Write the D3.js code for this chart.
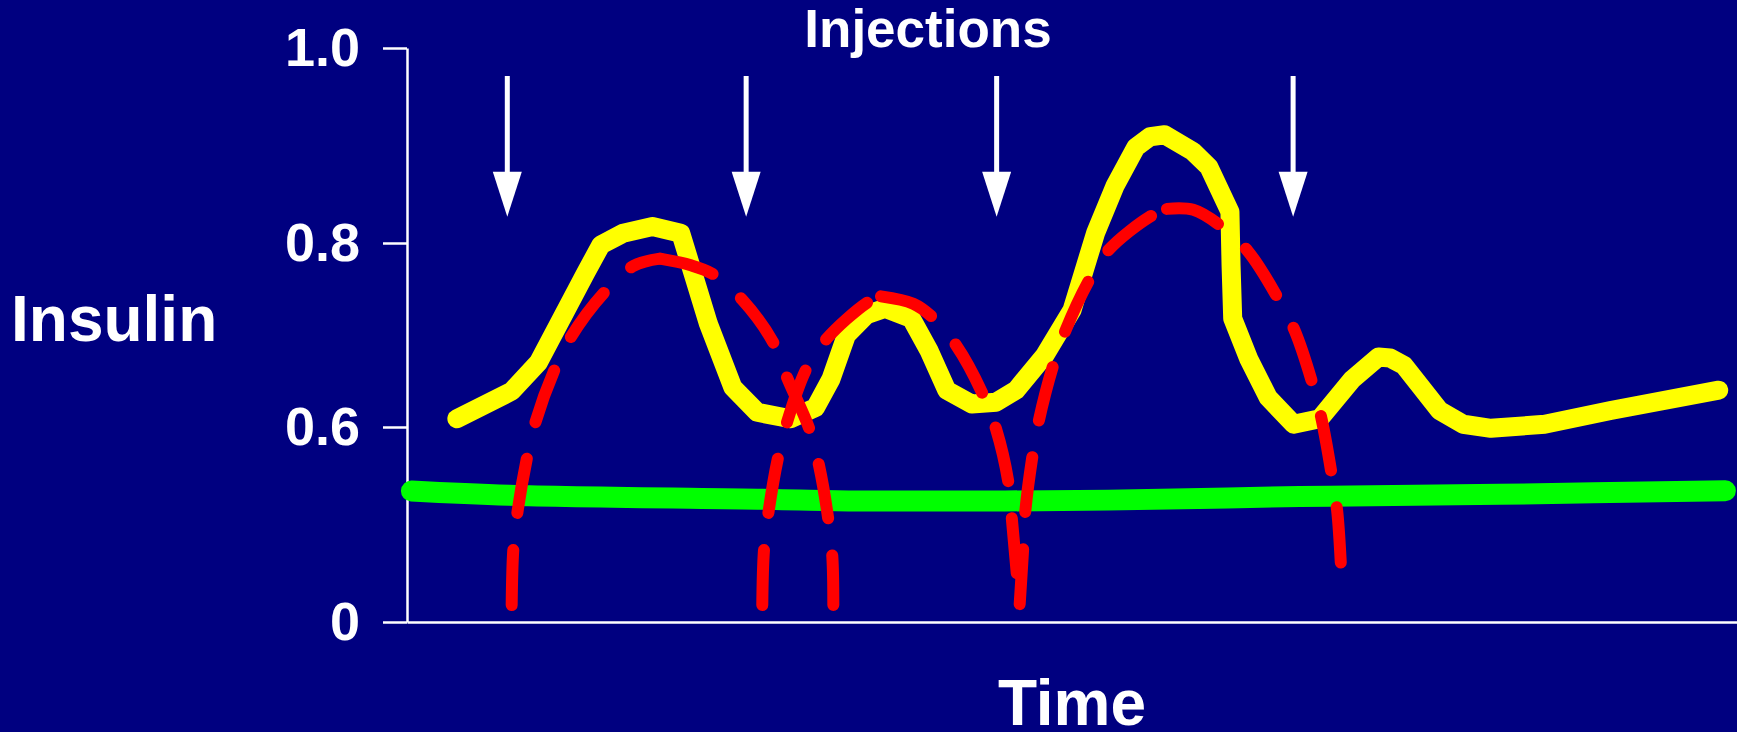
<!DOCTYPE html>
<html>
<head>
<meta charset="utf-8">
<script src="https://cdn.jsdelivr.net/npm/d3@7"></script>
<style>
  body { margin: 0; background: #000080; }
  svg text { font-family: "Liberation Sans", Arial, sans-serif; font-weight: bold; fill: #fff; }
  .axis path, .axis line { stroke: #fff; stroke-width: 2.5; }
</style>
</head>
<body>
<div id="svg1"></div>
<script>
// y ticks (the axis is broken between 0 and 0.6)
var yTicks = [0, 0.6, 0.8, 1.0];

// injection times (hours)
var injections = [1.81, 6.12, 10.64, 15.99];

// measured insulin (yellow)
var measuredT = [0.90, 1.89, 2.37, 3.22, 3.50, 3.90, 4.43, 4.94, 5.44, 5.88, 6.32, 6.92, 7.37, 7.65, 7.93, 8.29, 8.63, 9.10, 9.42, 9.74, 10.19, 10.63, 10.99, 11.51, 12.00, 12.43, 12.78, 13.15, 13.41, 13.67, 14.18, 14.47, 14.85, 14.87, 14.90, 15.19, 15.54, 16.00, 16.47, 17.06, 17.53, 17.74, 17.99, 18.63, 19.06, 19.56, 20.53, 21.72, 23.67];
var measuredV = [0.609, 0.639, 0.670, 0.767, 0.798, 0.810, 0.817, 0.810, 0.712, 0.643, 0.616, 0.609, 0.621, 0.652, 0.700, 0.722, 0.729, 0.718, 0.683, 0.640, 0.625, 0.627, 0.640, 0.678, 0.727, 0.811, 0.859, 0.898, 0.909, 0.911, 0.894, 0.878, 0.832, 0.776, 0.718, 0.674, 0.632, 0.603, 0.609, 0.652, 0.676, 0.675, 0.667, 0.618, 0.603, 0.596, 0.603, 0.618, 0.640];

// basal insulin (green)
var basalT = [0.08, 1.85, 6.64, 8.17, 12.65, 16.11, 19.72, 23.79];
var basalV = [0.403, 0.390, 0.377, 0.372, 0.375, 0.386, 0.393, 0.404];

// injection profiles (red dashed), rise drawn upward, fall drawn from the peak down
var rise1T = [1.889, 1.918, 1.990, 2.160, 2.317, 2.653, 2.959, 3.555, 4.084, 4.565];
var rise1V = [0.052, 0.222, 0.334, 0.501, 0.605, 0.661, 0.698, 0.746, 0.775, 0.783];
var fall1T = [4.565, 5.107, 5.527, 6.054, 6.617, 6.857, 7.263, 7.440, 7.602, 7.675, 7.693];
var fall1V = [0.783, 0.776, 0.766, 0.738, 0.691, 0.654, 0.593, 0.478, 0.316, 0.201, 0.052];

var rise2T = [6.411, 6.442, 6.520, 6.689, 6.857, 7.205, 7.574, 8.324, 8.553];
var rise2V = [0.052, 0.222, 0.334, 0.501, 0.605, 0.663, 0.696, 0.736, 0.742];
var fall2T = [8.553, 9.136, 9.468, 9.907, 10.388, 10.628, 10.856, 10.917, 11.056];
var fall2V = [0.742, 0.734, 0.720, 0.689, 0.636, 0.595, 0.426, 0.313, 0.049];

var rise3T = [11.056, 11.116, 11.152, 11.278, 11.395, 11.650, 11.870, 12.294, 12.655, 13.407, 13.714];
var rise3V = [0.055, 0.218, 0.331, 0.501, 0.605, 0.665, 0.703, 0.758, 0.792, 0.827, 0.835];
var fall3T = [13.714, 14.189, 14.671, 15.176, 15.717, 16.017, 16.340, 16.506, 16.686, 16.787, 16.854];
var fall3V = [0.835, 0.834, 0.818, 0.791, 0.740, 0.705, 0.647, 0.608, 0.454, 0.339, 0.170];

function zip(ts, vs) {
    return ts.map(function (t, i) { return { t: t, v: vs[i] }; });
}

var measured = zip(measuredT, measuredV);
var basal = zip(basalT, basalV);
var profiles = [
    zip(rise1T, rise1V), zip(fall1T, fall1V),
    zip(rise2T, rise2V), zip(fall2T, fall2V),
    zip(rise3T, rise3V), zip(fall3T, fall3V)
];

// size of the svg
var W = 1737, H = 732;
var margin = { top: 48, right: 0, bottom: 110, left: 407 },
    w = W - margin.left - margin.right,
    h = H - margin.top - margin.bottom;

var root = d3.select('#svg1')
    .append('svg')
    .attr('width', W)
    .attr('height', H);

root.append('rect')
    .attr('width', W)
    .attr('height', H)
    .attr('fill', '#000080');

var svg1 = root.append('g')
    .attr('transform', `translate(${margin.left},${margin.top})`);

var xScale = d3.scaleLinear()
    .domain([0, 24])
    .range([0, w]);

// piecewise scale, the 0 - 0.6 part is squeezed
var yScale = d3.scaleLinear()
    .domain(yTicks)
    .range([h, h - 195, h - 379, 0]);

var yAxis = d3.axisLeft(yScale)
    .tickValues(yTicks)
    .tickFormat(function (d) { return d === 0 ? '0' : d3.format('.1f')(d); })
    .tickSize(24)
    .tickSizeOuter(0)
    .tickPadding(23);

var xAxis = d3.axisBottom(xScale)
    .tickValues([])
    .tickSizeOuter(0);

svg1.append('g')
    .attr('class', 'y axis')
    .call(yAxis)
    .call(function (g) {
        g.selectAll('text')
            .attr('fill', '#fff')
            .style('font-size', '54px');
    });

svg1.append('g')
    .attr('class', 'x axis')
    .attr('transform', `translate(0,${h})`)
    .call(xAxis);

var line = d3.line()
    .x(function (d) { return xScale(d.t); })
    .y(function (d) { return yScale(d.v); });

// basal
svg1.append('path')
    .datum(basal)
    .attr('fill', 'none')
    .attr('stroke', '#00ff00')
    .attr('stroke-width', 21)
    .attr('stroke-linecap', 'round')
    .attr('d', line.curve(d3.curveCatmullRom)(basal));

// measured
svg1.append('path')
    .datum(measured)
    .attr('fill', 'none')
    .attr('stroke', '#ffff00')
    .attr('stroke-width', 19)
    .attr('stroke-linecap', 'round')
    .attr('stroke-linejoin', 'round')
    .attr('d', line.curve(d3.curveLinear)(measured));

// injection profiles
svg1.append('g').selectAll('path')
    .data(profiles)
    .enter()
    .append('path')
    .attr('fill', 'none')
    .attr('stroke', '#ff0000')
    .attr('stroke-width', 12)
    .attr('stroke-linecap', 'round')
    .attr('stroke-dasharray', '55 37.5')
    .attr('d', function (d) { return line.curve(d3.curveCatmullRom.alpha(0.5))(d); });

// arrows
var arrows = svg1.append('g').selectAll('g')
    .data(injections)
    .enter()
    .append('g')
    .attr('transform', function (d) { return `translate(${xScale(d)},0)`; });

arrows.append('line')
    .attr('y1', 28)
    .attr('y2', 130)
    .attr('stroke', '#fff')
    .attr('stroke-width', 5);

arrows.append('path')
    .attr('d', 'M-14.5,123.7L14.5,123.7L0,168.7Z')
    .attr('fill', '#fff');

// labels
root.append('text')
    .attr('x', 928)
    .attr('y', 47)
    .attr('text-anchor', 'middle')
    .style('font-size', '53px')
    .text('Injections');

root.append('text')
    .attr('x', 11)
    .attr('y', 341)
    .style('font-size', '64px')
    .text('Insulin');

root.append('text')
    .attr('x', 1072)
    .attr('y', 725)
    .attr('text-anchor', 'middle')
    .style('font-size', '64px')
    .text('Time');
</script>
</body>
</html>
